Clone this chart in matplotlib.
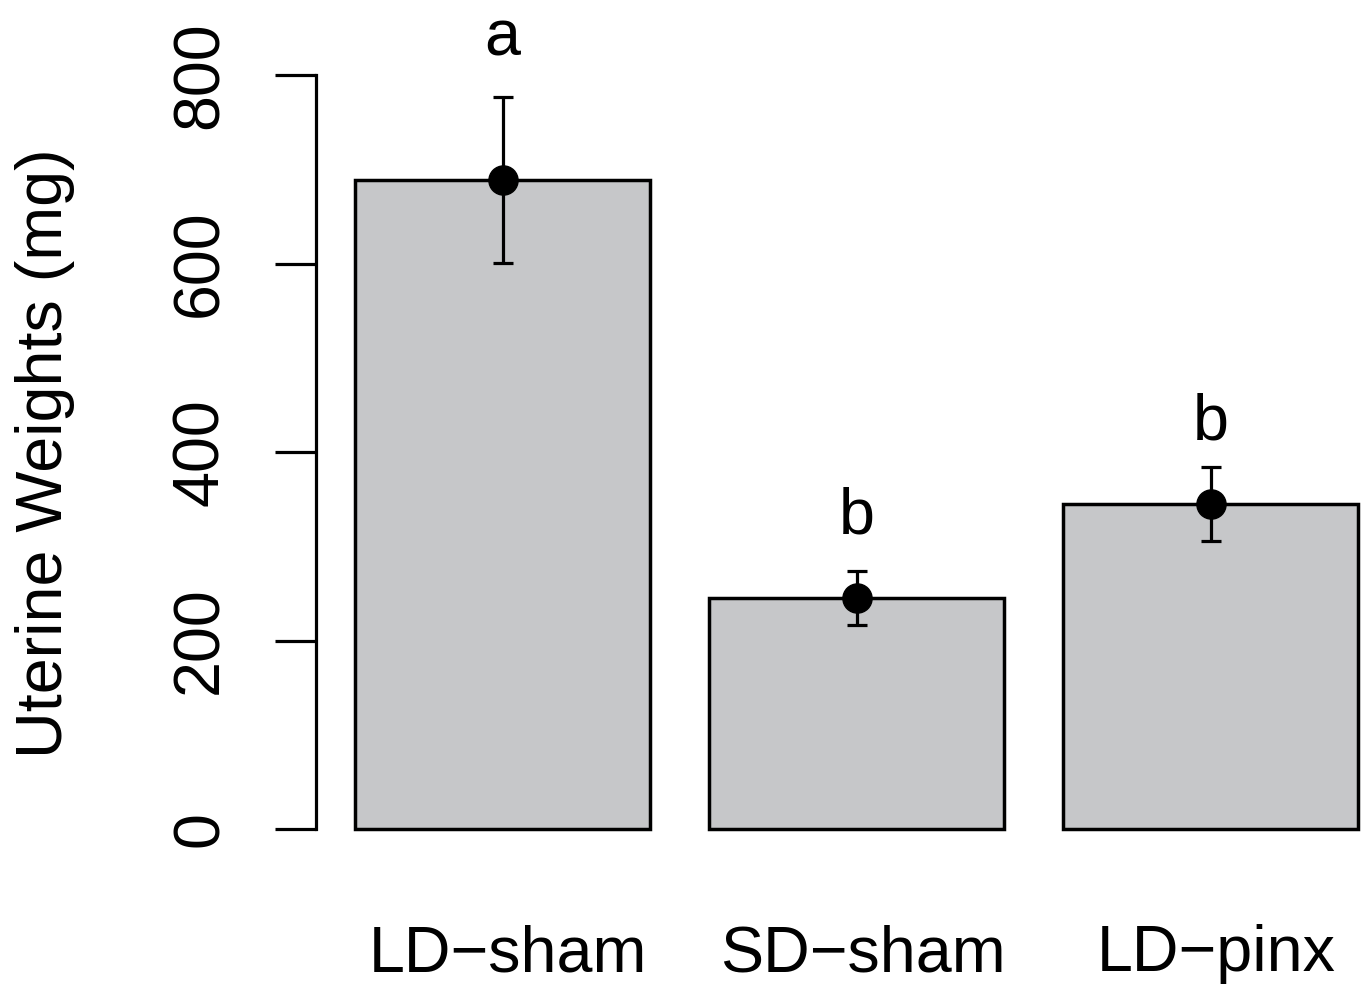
import matplotlib.pyplot as plt

# data
groups = ['LD\u2212sham', 'SD\u2212sham', 'LD\u2212pinx']
means = [689, 245, 345]
errors = [88, 29, 39]
letters = ['a', 'b', 'b']
letter_y = [821, 314, 413]
yticks = [0, 200, 400, 600, 800]

plt.rcParams['font.family'] = ['Liberation Sans', 'DejaVu Sans']
fs = 46.5

fig = plt.figure(figsize=(13.65, 9.86), dpi=100)
W, H = 1365, 986
ax = fig.add_axes([316 / W, (H - 829) / H, (W - 316) / W, 754 / H])

xpos = [i * 1.2 for i in range(len(groups))]
ax.bar(xpos, means, width=1.0, color='#c6c7c9', edgecolor='black',
       linewidth=2.5, clip_on=False, zorder=1)
ax.errorbar(xpos, means, yerr=errors, fmt='o', color='black', markersize=21,
            elinewidth=2.3, capsize=7.5, capthick=2.3, clip_on=False, zorder=3)

for x, lab, ly in zip(xpos, letters, letter_y):
    ax.text(x, ly, lab, ha='center', va='baseline', fontsize=fs, clip_on=False)

for x, g in zip(xpos, groups):
    ax.text(x + 0.02, -151, g, ha='center', va='baseline', fontsize=fs, clip_on=False)

ax.set_xlim(-0.5 - 39 / 295, -0.5 + (W - 355) / 295)
ax.set_ylim(0, 800)
ax.set_yticks(yticks)
ax.set_yticklabels([str(t) for t in yticks], rotation=90, va='center', fontsize=fs)
ax.tick_params(axis='y', length=29.5, width=2.3, pad=32)
ax.set_xticks([])
for s in ['top', 'right', 'bottom']:
    ax.spines[s].set_visible(False)
ax.spines['left'].set_linewidth(2.3)
ax.spines['left'].set_bounds(0, 800)

fig.text(45 / W, 1 - 453 / H, 'Uterine Weights (mg)', rotation=90,
         ha='center', va='center', fontsize=fs)

fig.savefig('out.png', dpi=100)
